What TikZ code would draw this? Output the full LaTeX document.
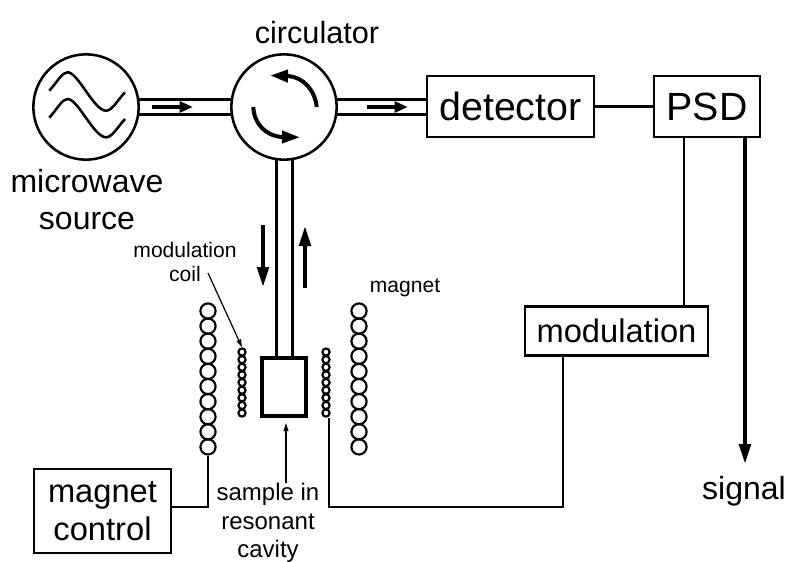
\documentclass[tikz,border=0pt]{standalone}
\usepackage{fontspec}
\setmainfont{Liberation Sans}
\usetikzlibrary{arrows.meta}
\tikzset{
  x=0.75pt,y=-0.75pt,
  wire/.style={line width=1.9pt,line cap=butt},
  thinwire/.style={line width=1.6pt},
  fat/.style={line width=3pt,-{Triangle[length=15pt,width=8.6pt]}},
  midfat/.style={line width=2.7pt,-{Triangle[length=10pt,width=8pt]}},
  leader/.style={line width=0.9pt,-{Triangle[length=6pt,width=3.5pt]}},
  bigc/.style={circle,draw,line width=1.9pt,minimum size=79pt,inner sep=0pt,fill=white},
  boxn/.style={rectangle,draw,line width=1.9pt,inner sep=0pt,align=center},
  cav/.style={rectangle,draw,line width=3pt,inner sep=0pt},
  coilL/.style={circle,draw,line width=1.6pt,minimum size=11.4pt,inner sep=0pt},
  coilS/.style={circle,draw,line width=1.6pt,minimum size=5.4pt,inner sep=0pt},
  lab/.style={inner sep=0pt,align=center,font=\fontsize{24pt}{27.7pt}\selectfont},
  labs/.style={inner sep=0pt,align=center,font=\fontsize{15.8pt}{18pt}\selectfont},
  labm/.style={inner sep=0pt,align=center,font=\fontsize{18pt}{21.4pt}\selectfont},
}
\begin{document}
\begin{tikzpicture}
\useasboundingbox (0,0) rectangle (787,561);
% main nodes
\node[bigc] (src) at (86,107) {};
\node[bigc] (circ) at (284,107) {};
\node[boxn,minimum width=125pt,minimum height=45.5pt,font=\fontsize{29.5pt}{30pt}\selectfont] (det) at (510.5,106.5) {detector};
\node[boxn,minimum width=79.5pt,minimum height=45.5pt,font=\fontsize{29.5pt}{30pt}\selectfont] (psd) at (707,106.5) {PSD};
\node[boxn,minimum width=137pt,minimum height=37pt,font=\fontsize{24.5pt}{25pt}\selectfont] (mod) at (616.5,331) {modulation};
\node[boxn,minimum width=103pt,minimum height=63pt,font=\fontsize{24.5pt}{28.5pt}\selectfont] (mag) at (102.5,511) {magnet\\control};
\node[cav,minimum width=33pt,minimum height=44pt] (cavity) at (283.5,387) {};
% labels
\node[lab,font=\fontsize{23pt}{27pt}\selectfont] (lcirc) at (317,33) {circulator};
\node[lab] (lsrc) at (87,200) {microwave\\source};
\node[labs] (lcoil) at (185,262) {modulation\\coil};
\node[labs] (lmag) at (405,288) {magnet};
\node[labm] (lsam) at (268,523) {sample in\\resonant\\cavity};
% waveguides
\draw[wire] (src.8) -- (circ.172);
\draw[wire] (src.-8) -- (circ.-172);
\draw[wire] (circ.8) -- (circ.8 -| det.west);
\draw[wire] (circ.-8) -- (circ.-8 -| det.west);
\draw[thinwire] (circ.-98.7) -- (circ.-98.7 |- cavity.north);
\draw[thinwire] (circ.-81.3) -- (circ.-81.3 |- cavity.north);
% signal lines
\draw[thinwire] (det) -- (psd);
\coordinate (p1) at (684,137);
\coordinate (p2) at (745,137);
\coordinate (sigend) at (745,464);
\draw[wire] (p1) -- (p1 |- mod.north);
\draw[fat] (p2) -- (sigend);
\node[lab] (lsig) at (744,491) {signal};
% coils
\foreach \i in {0,...,9} {
  \node[coilL] (ml\i) at (208,{311+15.1*\i}) {};
  \node[coilL] (mr\i) at (359,{311+15.1*\i}) {};
}
\foreach \i in {0,...,8} {
  \node[coilS] (sl\i) at (242,{352+7.63*\i}) {};
  \node[coilS] (sr\i) at (326,{352+7.63*\i}) {};
}
% wiring
\coordinate (c1) at (329,507);
\coordinate (c2) at (563,507);
\draw[wire] (mod.south -| c2) -- (c2) -- (c1) -- (c1 |- sr8.south);
\draw[wire] (mag.east |- c2) -- (ml9.south |- c2) -- (ml9.south);
% leaders
\coordinate (a1) at (208,273);
\draw[leader] (a1) -- (sl0.north);
\coordinate (a2) at (286,483);
\coordinate (a3) at (286,423);
\draw[leader] (a2) -- (a3);
% flow arrows
\coordinate (f1) at (152,107);
\coordinate (f1e) at (193,107);
\draw[midfat] (f1) -- (f1e);
\coordinate (f2) at (367,107);
\coordinate (f2e) at (408,107);
\draw[midfat] (f2) -- (f2e);
\coordinate (f3) at (263,225);
\coordinate (f3e) at (263,287);
\draw[fat] (f3) -- (f3e);
\coordinate (f4) at (305,288);
\coordinate (f4e) at (305,226);
\draw[fat] (f4) -- (f4e);
% source waves
\draw[wire,line join=round] (49.3,90.7) .. controls (58,81) and (62,72.3) .. (67.7,72.3) .. controls (78,72.3) and (94,110.7) .. (106,110.7) .. controls (112,110.7) and (117,101) .. (125,92.3);
\draw[wire,line join=round] (49.3,117.7) .. controls (58,108) and (62,99) .. (67.7,99) .. controls (78,99) and (94,137.3) .. (106,137.3) .. controls (112,137.3) and (117,128) .. (125,119);
% circulator arrows
\draw[line width=3pt,-{Triangle[length=13.5pt,width=9pt]}] (316.7,107) .. controls (315,90) and (303,77) .. (288,76) -- (270,75.5);
\draw[line width=3pt,-{Triangle[length=13.5pt,width=9pt]}] (253.3,107) .. controls (254,124) and (266,136) .. (282,137) -- (300,137.3);
\end{tikzpicture}
\end{document}
